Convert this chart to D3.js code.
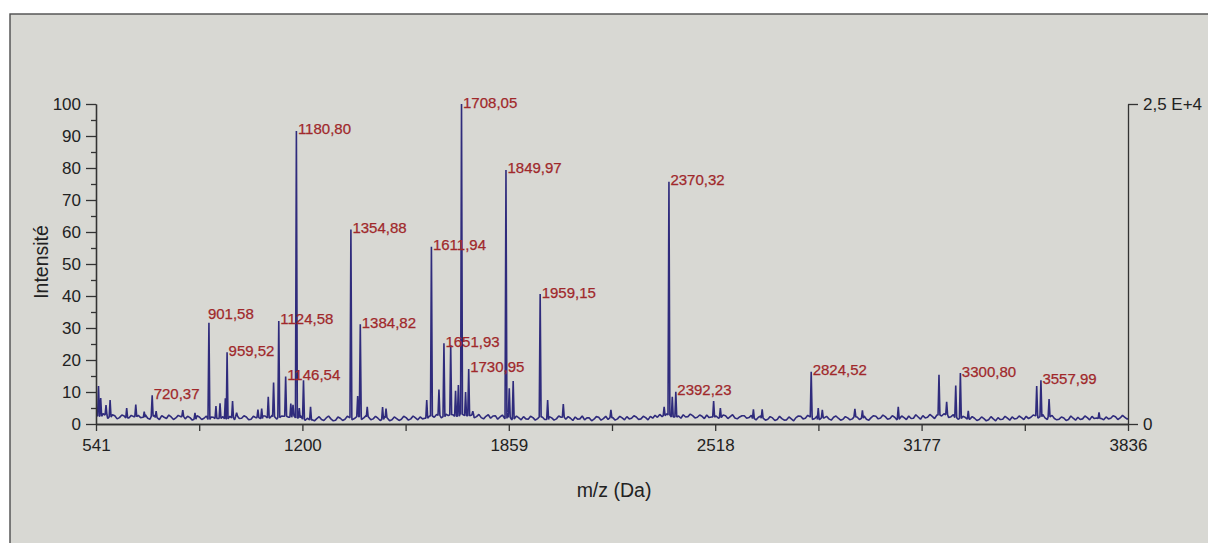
<!DOCTYPE html>
<html><head><meta charset="utf-8">
<script src="https://cdn.jsdelivr.net/npm/d3@7/dist/d3.min.js"></script>
<style>
body{margin:0;background:#fff}
svg{display:block}
text{font-family:"Liberation Sans",Arial,Helvetica,sans-serif}
</style>
</head><body>
<svg id="chart" width="1208" height="543"></svg>
<script>
// ---- DATA ----
const xTicks = [541, 1200, 1859, 2518, 3177, 3836];
const xMinorTicks = [870.5, 1529.5, 2188.5, 2847.5, 3506.5];
const yTicks = [0, 10, 20, 30, 40, 50, 60, 70, 80, 90, 100];
const yMinorTicks = [5, 15, 25, 35, 45, 55, 65, 75, 85, 95];
const rightTicks = [0, 25000];
const rightTickLabels = ["0", "2,5 E+4"];

// peaks: m/z and relative intensity (%)
const peakMz = [549, 556, 573, 586, 639, 668, 695, 720.37, 733, 818, 857,
  901.58, 924, 937, 954, 959.52, 977, 990, 1058, 1070, 1091, 1108, 1124.58,
  1146.54, 1163, 1170, 1180.80, 1190, 1203.5, 1226, 1354.88, 1376.5, 1384.82,
  1407, 1456, 1467, 1597, 1611.94, 1636, 1651.93, 1673.5, 1689, 1698, 1708.05,
  1721, 1730.95, 1744, 1849.97, 1860.5, 1873, 1959.15, 1983, 2033, 2185, 2355,
  2370.32, 2381, 2392.23, 2513, 2534.5, 2640, 2668, 2824.52, 2847, 2860, 2964,
  2988, 3102.5, 3232.5, 3257, 3286, 3300.80, 3326, 3544.5, 3557.99, 3584, 3743.5];
const peakInt = [11.9, 8.1, 5.9, 7.5, 5.0, 6.1, 3.9, 9.0, 4.0, 4.3, 3.5,
  31.6, 5.6, 6.5, 8.0, 22.4, 7.2, 3.5, 4.5, 4.8, 8.5, 13.0, 32.2,
  14.8, 6.4, 6.0, 91.6, 5.0, 13.7, 5.4, 60.8, 8.7, 31.2,
  5.4, 5.3, 4.8, 7.5, 55.4, 10.8, 25.2, 24.7, 10.4, 12.2, 100,
  10.0, 17.2, 4.0, 79.4, 11.2, 13.4, 40.6, 7.5, 6.2, 4.4, 5.4,
  75.7, 8.5, 10.1, 7.2, 5.0, 4.6, 4.6, 16.3, 5.0, 4.4, 4.7,
  4.3, 5.4, 15.4, 6.9, 12.0, 15.9, 4.1, 11.9, 13.7, 7.8, 3.6];

// baseline noise, sampled every 15 Da from 541 ...
const baseStart = 541, baseStep = 15;
const baseInt = [
  3.0,2.4,2.8,2.2,2.6,2.0,2.5,1.9,2.3,2.7,2.1,1.8,2.4,2.0,2.6,1.7,2.2,1.9,2.3,1.6,
  2.0,1.5,2.2,1.8,1.4,2.1,1.7,2.3,1.6,1.9,2.4,1.8,2.2,1.5,2.0,1.7,2.5,1.9,2.3,2.0,
  2.4,2.1,2.6,1.9,1.5,1.8,1.3,1.7,1.4,1.9,1.6,1.2,1.8,1.5,2.0,1.7,2.3,1.9,2.2,1.6,
  1.8,1.4,1.9,1.3,1.7,1.5,2.0,1.6,1.9,2.2,1.8,2.5,2.1,2.7,2.3,2.6,2.9,2.4,3.0,2.6,
  2.8,2.3,2.0,2.4,1.8,2.6,2.2,1.7,2.1,1.6,1.9,2.3,1.5,2.0,1.7,2.2,1.4,1.9,1.6,2.1,
  1.5,1.8,2.2,1.6,1.3,1.9,1.5,2.1,1.7,1.4,2.0,1.6,1.9,2.3,1.8,2.2,1.6,2.0,2.4,2.7,
  3.0,2.6,2.8,2.2,2.5,2.9,2.3,2.6,2.1,2.4,2.8,2.2,2.5,2.0,2.6,2.3,1.9,2.2,2.6,2.0,
  1.7,2.1,1.8,1.5,1.9,1.4,1.7,1.3,1.6,2.0,2.4,1.8,2.2,1.7,1.4,1.9,1.6,2.1,1.8,1.5,
  1.9,1.6,2.2,1.8,1.5,2.0,2.4,1.9,2.3,1.7,2.1,1.6,2.0,2.5,1.8,2.2,2.6,2.1,2.4,2.8,
  2.5,2.9,2.3,2.0,1.7,2.1,1.5,1.8,1.4,1.7,1.3,1.6,2.0,1.5,1.8,2.2,1.7,2.0,2.4,2.1,
  2.6,2.3,1.9,2.2,1.7,1.5,1.9,1.4,1.8,2.1,1.6,2.0,2.4,1.9,1.7,2.2,1.8,2.3,1.9,2.1,2.0];
// ... and the noise between them (548.5 + 15 Da steps)
const baseIntMid = [
  1.9,3.2,1.7,2.9,1.6,2.8,1.5,2.7,1.4,2.0,2.9,1.5,2.7,1.4,2.1,2.8,1.4,2.7,1.5,2.4,
  1.2,2.6,1.4,2.5,2.2,1.3,2.6,1.4,2.4,1.3,1.7,2.6,1.3,2.4,1.4,2.6,1.6,2.7,1.5,2.5,
  1.6,2.9,1.7,2.7,1.1,2.4,1.0,2.3,1.1,2.5,1.0,2.2,1.1,2.4,1.3,2.5,1.4,2.6,1.3,2.4,
  1.1,2.3,1.0,2.2,1.1,2.4,1.2,2.5,1.3,1.6,2.7,1.7,3.0,1.9,3.1,2.0,2.2,3.2,2.1,3.1,
  1.9,3.0,1.6,2.9,2.5,1.5,2.8,2.5,1.3,2.5,1.3,1.6,2.4,1.2,2.6,1.4,2.3,1.2,2.5,1.4,
  2.3,1.1,1.5,2.5,1.9,1.0,2.3,1.2,2.4,2.1,1.2,2.4,1.3,1.6,2.6,1.4,2.4,1.3,1.8,2.1,
  2.3,3.2,2.0,2.9,1.8,2.2,3.1,1.9,2.8,1.7,2.0,3.0,1.8,2.8,1.7,2.9,1.6,2.6,1.8,2.7,
  1.3,2.5,1.2,2.3,1.1,2.4,1.2,2.2,1.0,2.5,1.6,2.7,1.4,2.5,1.0,2.4,1.2,2.5,1.2,2.3,
  1.3,2.6,1.4,2.5,1.2,2.6,1.6,2.8,1.5,2.6,1.3,2.5,1.4,1.7,2.9,1.5,1.9,3.0,1.7,2.2,
  3.2,2.0,2.9,1.5,2.4,1.2,2.3,1.1,2.2,1.0,2.3,1.0,1.4,2.4,1.2,1.6,2.5,1.4,1.7,2.8,
  1.8,3.0,1.4,2.7,1.3,2.2,1.1,2.5,1.2,1.4,2.5,1.3,1.7,2.7,1.3,1.6,2.6,1.4,2.7,1.5];

// labelled peaks
const labelMz = [720.37, 901.58, 959.52, 1124.58, 1146.54, 1180.80, 1354.88, 1384.82,
  1611.94, 1651.93, 1708.05, 1730.95, 1849.97, 1959.15, 2370.32, 2392.23, 2824.52,
  3300.80, 3557.99];
const labelText = ["720,37", "901,58", "959,52", "1124,58", "1146,54", "1180,80",
  "1354,88", "1384,82", "1611,94", "1651,93", "1708,05", "1730,95", "1849,97",
  "1959,15", "2370,32", "2392,23", "2824,52", "3300,80", "3557,99"];
const labelsAbove = ["901,58"];

const xTitle = "m/z (Da)";
const yTitle = "Intensité";

// ---- DRAWING ----
const svg = d3.select("#chart");
const W = 1208, H = 543;
const mLeft = 96, mRight = 1128, mTop = 104, mBottom = 424;
const lineColor = "#2f2b7c", labelColor = "#a0282b", axisColor = "#333";

svg.append("rect").attr("x", 10).attr("y", 14).attr("width", W).attr("height", H)
  .attr("fill", "#d8d8d3").attr("stroke", "#4d4d4d").attr("stroke-width", 1.4);

const x = d3.scaleLinear().domain([541, 3836]).range([mLeft, mRight]);
const y = d3.scaleLinear().domain([0, 100]).range([mBottom, mTop]);
const yR = d3.scaleLinear().domain([0, 25000]).range([mBottom, mTop]);

// build spectrum points
const halfW = 3;
const baseAt = mz => baseInt[Math.max(0, Math.min(baseInt.length - 1, Math.round((mz - baseStart) / baseStep)))];
const nearPeak = mz => peakMz.some(p => Math.abs(p - mz) <= halfW);
let pts = [];
baseInt.forEach((v, i) => {
  const mz = baseStart + i * baseStep;
  if (!nearPeak(mz)) pts.push([mz, v]);
});
baseIntMid.forEach((v, i) => {
  const mz = baseStart + baseStep / 2 + i * baseStep;
  if (!nearPeak(mz)) pts.push([mz, v]);
});
peakMz.forEach((mz, i) => {
  const b = baseAt(mz);
  pts.push([mz - halfW, b]);
  pts.push([mz, peakInt[i]]);
  pts.push([mz + halfW, b]);
});
pts.sort((a, b) => a[0] - b[0]);

svg.append("clipPath").attr("id", "plotclip").append("rect")
  .attr("x", mLeft).attr("y", 0).attr("width", mRight - mLeft).attr("height", mBottom + 2);

const line = d3.line().x(d => x(d[0])).y(d => y(d[1]));
svg.append("path").datum(pts).attr("d", line)
  .attr("clip-path", "url(#plotclip)")
  .attr("fill", "none").attr("stroke", lineColor).attr("stroke-width", 1.6)
  .attr("stroke-linejoin", "bevel");

// axes
function styleAxis(g, fs) {
  g.selectAll("path,line").attr("stroke", axisColor).attr("stroke-width", 1.3);
  g.selectAll("text").attr("fill", "#222").attr("font-size", fs)
    .style("font-family", '"Liberation Sans",Arial,sans-serif');
}
const gx = svg.append("g").attr("transform", `translate(0,${mBottom})`)
  .call(d3.axisBottom(x).tickValues(xTicks).tickFormat(d3.format("d")).tickSize(7).tickPadding(8).tickSizeOuter(0));
styleAxis(gx, 17);
const gxm = svg.append("g").attr("transform", `translate(0,${mBottom})`)
  .call(d3.axisBottom(x).tickValues(xMinorTicks).tickFormat("").tickSize(7).tickSizeOuter(0));
styleAxis(gxm, 17);

const gy = svg.append("g").attr("transform", `translate(${mLeft},0)`)
  .call(d3.axisLeft(y).tickValues(yTicks).tickSize(10).tickPadding(5).tickSizeOuter(0));
styleAxis(gy, 17);
const gym = svg.append("g").attr("transform", `translate(${mLeft},0)`)
  .call(d3.axisLeft(y).tickValues(yMinorTicks).tickFormat("").tickSize(5).tickSizeOuter(0));
styleAxis(gym, 17);

const gr = svg.append("g").attr("transform", `translate(${mRight},0)`)
  .call(d3.axisRight(yR).tickValues(rightTicks).tickFormat((d, i) => rightTickLabels[i]).tickSize(10).tickPadding(5).tickSizeOuter(0));
styleAxis(gr, 17);

// titles
svg.append("text").attr("x", (mLeft + mRight) / 2 + 2).attr("y", 497)
  .attr("text-anchor", "middle").attr("font-size", 19.5).attr("fill", "#222").text(xTitle);
svg.append("text").attr("transform", `translate(48,${(mTop + mBottom) / 2 - 2}) rotate(-90)`)
  .attr("text-anchor", "middle").attr("font-size", 19.5).attr("fill", "#222").text(yTitle);

// peak labels
labelMz.forEach((mz, i) => {
  const idx = peakMz.indexOf(mz);
  const v = peakInt[idx];
  const above = labelsAbove.includes(labelText[i]);
  svg.append("text")
    .attr("x", x(mz) + (above ? -1 : 1.5))
    .attr("y", y(v) + (above ? -3.5 : 3.5))
    .attr("font-size", 15).attr("fill", labelColor)
    .attr("stroke", labelColor).attr("stroke-width", 0.25)
    .text(labelText[i]);
});
</script>
</body></html>
